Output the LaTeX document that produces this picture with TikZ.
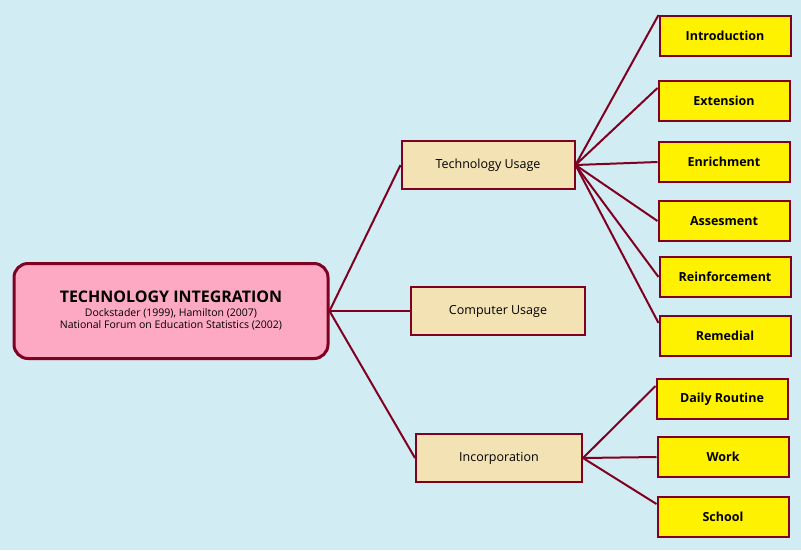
\documentclass[tikz,border=0pt]{standalone}
\usepackage{fontspec}
\setmainfont{Open Sans}
\definecolor{bgblue}{HTML}{D2ECF4}
\definecolor{wine}{HTML}{800020}
\definecolor{rootpink}{HTML}{FDA9C4}
\definecolor{tanbox}{HTML}{F2E2B4}
\definecolor{yelbox}{HTML}{FFF200}
\begin{document}
\begin{tikzpicture}[x=1pt, y=-1pt, line width=2pt, draw=wine,
  root/.style={draw=wine, line width=3pt, rounded corners=14pt, fill=rootpink, minimum width=314pt, minimum height=95pt, align=center},
  mid/.style={draw=wine, fill=tanbox, minimum height=48pt, font=\fontsize{12.5}{14}\selectfont},
  leaf/.style={draw=wine, fill=yelbox, minimum width=131pt, minimum height=40pt, font=\bfseries\fontsize{12.5}{14}\selectfont}]
\fill[bgblue] (0,0) rectangle (801,550);
\useasboundingbox (0,0) rectangle (801,550);

\node[root] (ti) at (171,311) {{\bfseries\fontsize{16}{20}\selectfont TECHNOLOGY INTEGRATION}\\[2pt]
  {\fontsize{10.5}{13}\selectfont Dockstader (1999), Hamilton (2007)}\\
  {\fontsize{10.5}{13}\selectfont National Forum on Education Statistics (2002)}};

\node[mid, minimum width=173pt] (tu) at (488,165) {Technology Usage};
\node[mid, minimum width=174pt] (cu) at (498,311) {Computer Usage};
\node[mid, minimum width=166pt] (inc) at (499,458) {Incorporation};

\node[leaf] (intro) at (725,36) {Introduction};
\node[leaf] (ext) at (724,101) {Extension};
\node[leaf] (enr) at (724,162) {Enrichment};
\node[leaf] (ass) at (724,221) {Assesment};
\node[leaf] (rein) at (725,277) {Reinforcement};
\node[leaf] (rem) at (725,336) {Remedial};
\node[leaf] (daily) at (722,399) {Daily Routine};
\node[leaf] (work) at (723,457) {Work};
\node[leaf] (school) at (723,517) {School};

\draw (ti.east) -- (tu.west);
\draw (ti.east) -- (cu.west);
\draw (ti.east) -- (inc.west);

\draw (tu.east) -- (intro.north west);
\draw (tu.east) -- ([yshift=-8pt]ext.north west);
\draw (tu.east) -- (enr.west);
\draw (tu.east) -- (ass.west);
\draw (tu.east) -- (rein.west);
\draw (tu.east) -- ([yshift=-8pt]rem.north west);

\draw (inc.east) -- ([yshift=-8pt]daily.north west);
\draw (inc.east) -- (work.west);
\draw (inc.east) -- ([yshift=-8pt]school.north west);
\end{tikzpicture}
\end{document}
